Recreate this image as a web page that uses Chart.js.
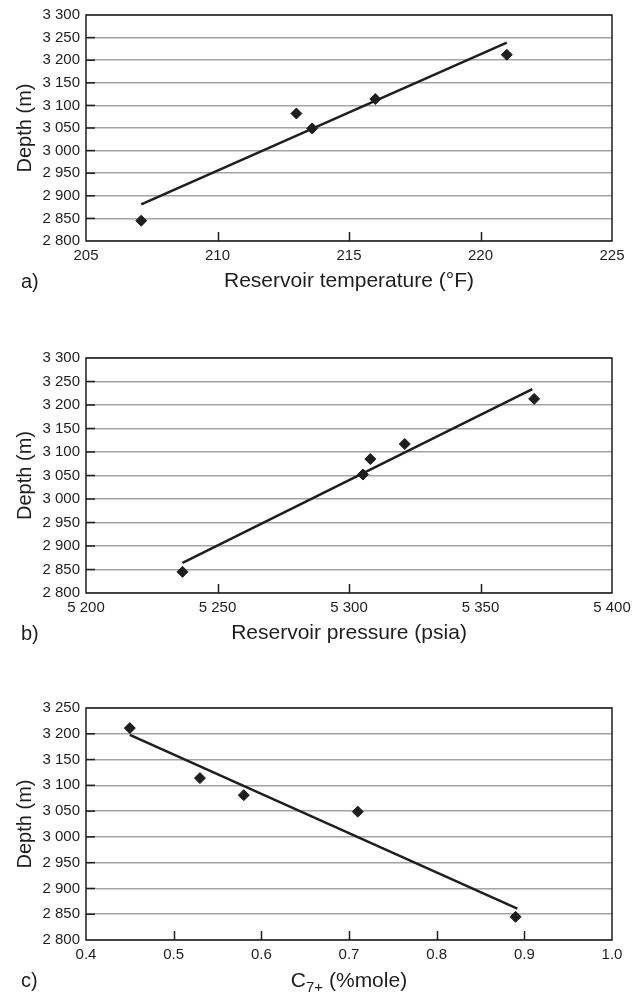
<!DOCTYPE html>
<html><head><meta charset="utf-8">
<script src="https://cdn.jsdelivr.net/npm/chart.js@4/dist/chart.umd.min.js"></script>
<style>
html,body{margin:0;padding:0;background:#fff;width:644px;height:993px;overflow:hidden}
.p{position:absolute;left:0}
canvas{display:block}
</style></head><body>
<div class="p" style="top:0px"><canvas id="ca" width="644" height="300"></canvas></div>
<div class="p" style="top:343px"><canvas id="cb" width="644" height="309"></canvas></div>
<div class="p" style="top:693px"><canvas id="cc" width="644" height="300"></canvas></div>
<script>
// ---- data ----
// a) Reservoir temperature vs depth
const tempF        = [207.1, 213.0, 213.6, 216.0, 221.0];
const depthA       = [2845, 3082, 3049, 3114, 3212];
const trendTempF   = [207.1, 221.0];
const trendDepthA  = [2881, 3239];
// b) Reservoir pressure vs depth
const pressPsia    = [5236.7, 5305.3, 5308.1, 5321.2, 5370.4];
const depthB       = [2845, 3052, 3085, 3117, 3213];
const trendPress   = [5236.7, 5369.7];
const trendDepthB  = [2864, 3234];
// c) C7+ vs depth
const c7Mole       = [0.45, 0.53, 0.58, 0.71, 0.89];
const depthC       = [3211, 3114, 3081, 3049, 2845];
const trendC7      = [0.45, 0.892];
const trendDepthC  = [3198, 2861];

// tick labels
const depthTicksAB = ['2 800','2 850','2 900','2 950','3 000','3 050','3 100','3 150','3 200','3 250','3 300'];
const depthTicksC  = ['2 800','2 850','2 900','2 950','3 000','3 050','3 100','3 150','3 200','3 250'];
const tempTicks    = ['205','210','215','220','225'];
const pressTicks   = ['5 200','5 250','5 300','5 350','5 400'];
const c7Ticks      = ['0.4','0.5','0.6','0.7','0.8','0.9','1.0'];

const INK = '#1e1e1e';
const FONT = "'Liberation Sans', Arial, Helvetica, sans-serif";
Chart.defaults.font.family = FONT;
Chart.defaults.color = INK;

const decor = {
  id: 'decor',
  beforeDatasetsDraw(chart, args, o) {
    const ctx = chart.ctx, a = chart.chartArea;
    const xs = chart.scales.x, ys = chart.scales.y;
    ctx.save();
    ctx.strokeStyle = INK;
    ctx.lineWidth = 1.5;
    // inward tick marks
    xs.ticks.forEach((t, i) => {
      if (i === 0 || i === xs.ticks.length - 1) return;
      const px = Math.round(xs.getPixelForValue(t.value)) + 0.5;
      ctx.beginPath(); ctx.moveTo(px, a.bottom); ctx.lineTo(px, a.bottom - 9); ctx.stroke();
    });
    ys.ticks.forEach((t, i) => {
      if (i === 0 || i === ys.ticks.length - 1) return;
      const py = ys.getPixelForValue(t.value);
      ctx.beginPath(); ctx.moveTo(a.left, py); ctx.lineTo(a.left + 9, py); ctx.stroke();
    });
    // frame
    ctx.strokeRect(a.left, a.top, a.right - a.left, a.bottom - a.top);
    ctx.restore();
  },
  afterDraw(chart, args, o) {
    const ctx = chart.ctx, a = chart.chartArea;
    ctx.save();
    ctx.fillStyle = INK;
    ctx.textBaseline = 'alphabetic';
    ctx.font = '20px ' + FONT;
    ctx.textAlign = 'left';
    ctx.fillText(o.letter, 21, a.bottom + 47);
    if (o.subTitle) {
      const big = '21px ' + FONT, small = '15px ' + FONT;
      ctx.font = big; const w1 = ctx.measureText('C').width; const w3 = ctx.measureText(' (%mole)').width;
      ctx.font = small; const w2 = ctx.measureText('7+').width;
      let x = (a.left + a.right) / 2 - (w1 + w2 + w3) / 2;
      const base = a.bottom + 47;
      ctx.font = big; ctx.fillText('C', x, base); x += w1;
      ctx.font = small; ctx.fillText('7+', x, base + 5); x += w2;
      ctx.font = big; ctx.fillText(' (%mole)', x, base);
    }
    ctx.restore();
  }
};

function buildPanel(id, c) {
  const pts = c.xs.map((x, i) => ({x: x, y: c.ys[i]}));
  const line = c.lx.map((x, i) => ({x: x, y: c.ly[i]}));
  new Chart(document.getElementById(id), {
    type: 'scatter',
    data: { datasets: [
      { data: pts, pointStyle: 'rectRot', pointRadius: 5.5, pointHoverRadius: 5.5,
        backgroundColor: INK, borderColor: INK, borderWidth: 1, order: 1 },
      { data: line, showLine: true, borderColor: INK, borderWidth: 2.5, pointRadius: 0,
        fill: false, order: 2 }
    ]},
    options: {
      responsive: false, animation: false, events: [],
      layout: { padding: { top: 15, right: 32, left: 0, bottom: 0 } },
      plugins: { legend: {display: false}, tooltip: {enabled: false},
                 decor: { letter: c.letter, subTitle: c.subTitle } },
      scales: {
        x: { type: 'linear', position: 'bottom', min: c.xmin, max: c.xmax,
             ticks: { stepSize: c.xstep, autoSkip: false, maxRotation: 0, padding: 6,
                      font: {size: 15}, color: INK, callback: (v, i) => c.xLabels[i] },
             grid: { display: false, drawTicks: false },
             border: { display: false },
             title: { display: !!c.xTitle, text: c.xTitle || '', font: {size: 21}, color: INK,
                      padding: {top: 0, bottom: 6} },
             afterFit: s => { s.height = c.xh; } },
        y: { type: 'linear', min: c.ymin, max: c.ymax,
             ticks: { stepSize: 50, autoSkip: false, padding: 6, font: {size: 15}, color: INK,
                      callback: (v, i) => c.yLabels[i] },
             grid: { color: '#a3a3a3', lineWidth: 1.5, drawTicks: false },
             border: { display: false },
             title: { display: true, text: 'Depth (m)', font: {size: 20}, color: INK,
                      padding: {top: 13, bottom: 0} },
             afterFit: s => { s.width = 86; } }
      }
    },
    plugins: [decor]
  });
}

buildPanel('ca', { xs: tempF, ys: depthA, lx: trendTempF, ly: trendDepthA,
  xmin: 205, xmax: 225, xstep: 5, xLabels: tempTicks, ymin: 2800, ymax: 3300, yLabels: depthTicksAB,
  xTitle: 'Reservoir temperature (°F)', letter: 'a)', xh: 59 });
buildPanel('cb', { xs: pressPsia, ys: depthB, lx: trendPress, ly: trendDepthB,
  xmin: 5200, xmax: 5400, xstep: 50, xLabels: pressTicks, ymin: 2800, ymax: 3300, yLabels: depthTicksAB,
  xTitle: 'Reservoir pressure (psia)', letter: 'b)', xh: 59 });
buildPanel('cc', { xs: c7Mole, ys: depthC, lx: trendC7, ly: trendDepthC,
  xmin: 0.4, xmax: 1.0, xstep: 0.1, xLabels: c7Ticks, ymin: 2800, ymax: 3250, yLabels: depthTicksC,
  xTitle: '', subTitle: true, letter: 'c)', xh: 53 });
</script>
</body></html>
